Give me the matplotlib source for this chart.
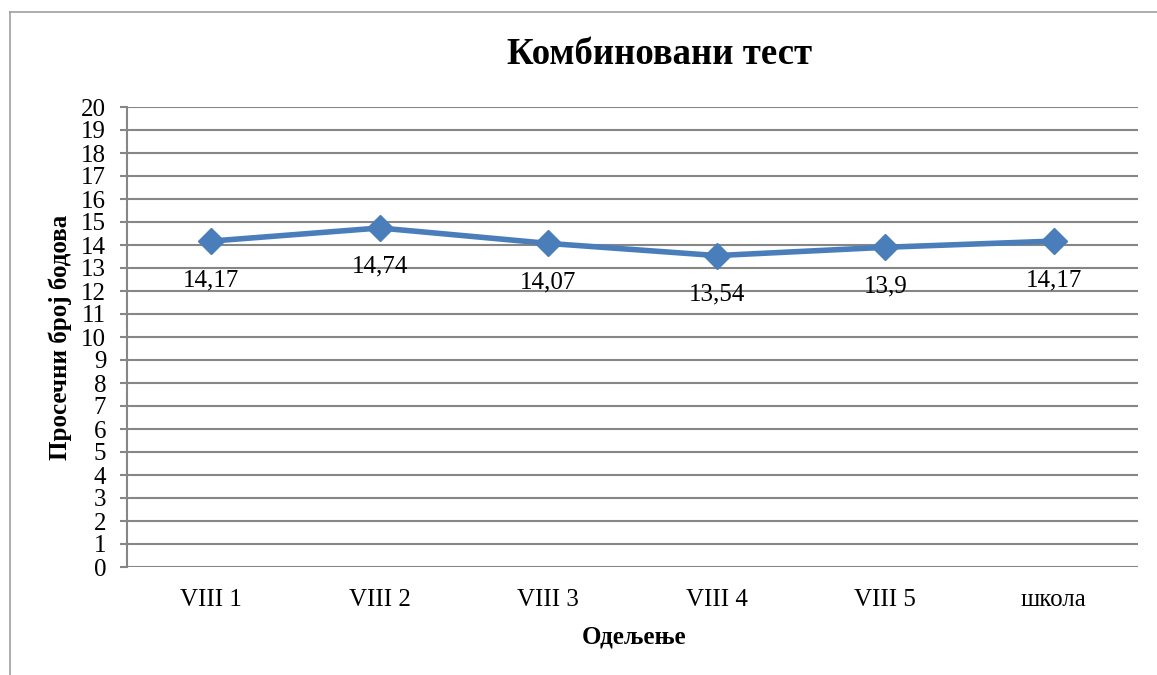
import matplotlib
matplotlib.use("Agg")
import matplotlib.pyplot as plt
from matplotlib.lines import Line2D

categories = ["VIII 1", "VIII 2", "VIII 3", "VIII 4", "VIII 5", "школа"]
values = [14.17, 14.74, 14.07, 13.54, 13.9, 14.17]
labels = ["14,17", "14,74", "14,07", "13,54", "13,9", "14,17"]
yticks = list(range(0, 21))

plt.rcParams['font.family'] = ['Liberation Serif', 'DejaVu Serif']

fig = plt.figure(figsize=(11.57, 6.75), dpi=100)
ax = fig.add_axes([127/1157, 108/675, (1138-127)/1157, (567-107)/675])

x = list(range(len(categories)))
ax.plot(x, values, color='#4a7ebb', lw=4, marker='D', markersize=13,
        markerfacecolor='#4a7ebb', markeredgecolor='#4a7ebb', zorder=3)
for xi, v, lab in zip(x, values, labels):
    ax.annotate(lab, (xi, v), xytext=(0, -28), textcoords='offset points',
                ha='center', va='center', fontsize=18, color='black')

ax.set_xlim(-0.5, len(categories) - 0.5)
ax.set_ylim(0, 20)
ax.set_yticks(yticks)
ax.set_yticklabels([str(t) for t in yticks], fontsize=18)
ax.set_xticks(x)
ax.set_xticklabels(categories, fontsize=18)
ax.tick_params(axis='x', length=0, pad=16)
ax.tick_params(axis='y', length=5, width=1.5, color='#868686', pad=10)
ax.grid(axis='y', color='#868686', lw=1.5)
ax.set_axisbelow(True)
for s in ['top', 'right', 'bottom']:
    ax.spines[s].set_visible(False)
ax.spines['left'].set_color('#868686')
ax.spines['left'].set_linewidth(1.5)

ax.set_xlabel("Одељење", fontsize=18, fontweight='bold')
ax.set_ylabel("Просечни број бодова", fontsize=18, fontweight='bold')
ax.xaxis.set_label_coords((634 - 127) / 1011, (567 - 637) / 460)
ax.yaxis.set_label_coords((60 - 127) / 1011, 0.5)
ax.xaxis.label.set_va('center')
ax.yaxis.label.set_va('center')
fig.text(660/1157, 1 - 55/675, "Комбиновани тест", ha='center', va='center',
         fontsize=26.5, fontweight='bold')

# outer frame
fig.add_artist(Line2D([9.5/1157, 9.5/1157], [0, 1 - 11.5/675], transform=fig.transFigure,
                      color='#a0a0a0', lw=1.2))
fig.add_artist(Line2D([9.5/1157, 1], [1 - 11.5/675, 1 - 11.5/675], transform=fig.transFigure,
                      color='#a0a0a0', lw=1.2))

fig.savefig("out.png", dpi=100)
